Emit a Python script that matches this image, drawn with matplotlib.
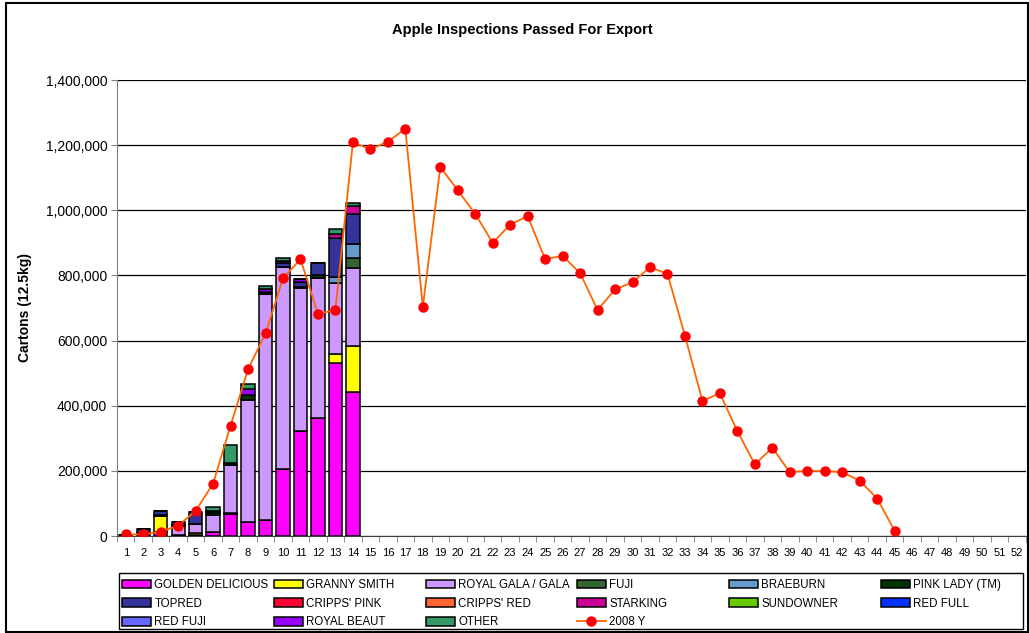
import numpy as np
import matplotlib
matplotlib.use("Agg")
import matplotlib.pyplot as plt
from matplotlib.patches import Rectangle
from matplotlib.ticker import FuncFormatter, MultipleLocator

plt.rcParams['font.family'] = ['Liberation Sans', 'DejaVu Sans']

weeks = list(range(1, 53))

# cartons per week, weeks 1-14 (bars stop after week 14)
golden_delicious = [0, 0, 12000, 3000, 3000, 13000, 67000, 44000, 49000, 205000, 323000, 361000, 530000, 443000]
granny_smith = [0, 0, 48000, 0, 5000, 0, 4000, 0, 0, 0, 0, 0, 28000, 141000]
royal_gala = [0, 0, 0, 27000, 30000, 52000, 147000, 375000, 694000, 620000, 437000, 432000, 218000, 240000]
fuji = [0, 0, 0, 3000, 0, 5000, 0, 0, 0, 0, 0, 0, 0, 31000]
braeburn = [0, 0, 0, 0, 0, 0, 0, 0, 0, 0, 0, 0, 18000, 43000]
pink_lady = [0, 8000, 4000, 0, 0, 6000, 5000, 13000, 7000, 0, 4000, 8000, 0, 0]
topred = [3000, 12000, 14000, 9000, 35000, 0, 0, 0, 0, 12000, 15000, 38000, 120000, 92000]
cripps_pink = [0] * 14
cripps_red = [0] * 14
starking = [0, 0, 0, 0, 0, 0, 0, 0, 0, 0, 0, 0, 13000, 22000]
sundowner = [0] * 14
red_full = [0] * 14
red_fuji = [0] * 14
royal_beaut = [0, 0, 0, 0, 0, 0, 0, 18000, 8000, 8000, 9000, 0, 0, 0]
other = [0, 0, 0, 0, 0, 12000, 57000, 18000, 10000, 10000, 0, 0, 15000, 11000]

# 2008 weekly total, weeks 1-45
y2008 = [5000, 5000, 13000, 32000, 77000, 161000, 339000, 512000, 622000, 791000,
         850000, 682000, 694000, 1209000, 1187000, 1211000, 1250000, 703000, 1133000, 1061000,
         989000, 900000, 956000, 982000, 850000, 860000, 807000, 694000, 757000, 779000,
         825000, 805000, 615000, 415000, 438000, 322000, 220000, 271000, 196000, 200000,
         199000, 196000, 170000, 115000, 16000]

series = [
    ("GOLDEN DELICIOUS", golden_delicious, "#FF00FF"),
    ("GRANNY SMITH", granny_smith, "#FFFF00"),
    ("ROYAL GALA / GALA", royal_gala, "#CC99FF"),
    ("FUJI", fuji, "#336633"),
    ("BRAEBURN", braeburn, "#6699CC"),
    ("PINK LADY (TM)", pink_lady, "#003300"),
    ("TOPRED", topred, "#333399"),
    ("CRIPPS' PINK", cripps_pink, "#FF0033"),
    ("CRIPPS' RED", cripps_red, "#FF6633"),
    ("STARKING", starking, "#CC0099"),
    ("SUNDOWNER", sundowner, "#66CC00"),
    ("RED FULL", red_full, "#0033FF"),
    ("RED FUJI", red_fuji, "#6666FF"),
    ("ROYAL BEAUT", royal_beaut, "#9900FF"),
    ("OTHER", other, "#339966"),
]

fig = plt.figure(figsize=(10.29, 6.33), dpi=100)
ax = fig.add_axes([117 / 1029, 97 / 633, 908.7 / 1029, 456 / 633])

handles = []
bottom = np.zeros(14)
x_bars = weeks[:14]
for name, vals, col in series:
    b = ax.bar(x_bars, vals, width=0.76, bottom=bottom, color=col,
               edgecolor="black", linewidth=1.1, label=name, zorder=3)
    bottom += np.array(vals)
    handles.append(b)

ln, = ax.plot(weeks[:len(y2008)], y2008, color="#FF6600", lw=1.3, marker="o",
              markersize=6.5, markerfacecolor="#FF0000", markeredgecolor="#FF0000",
              label="2008 Y", zorder=4)
handles.append(ln)

ax.set_xlim(0.5, 52.5)
ax.set_ylim(0, 1400000)
ax.yaxis.set_major_locator(MultipleLocator(200000))
ax.yaxis.set_major_formatter(FuncFormatter(lambda v, p: f"{int(v):,}"))
ax.grid(axis="y", color="black", lw=0.9, zorder=0)
ax.set_axisbelow(True)

ax.set_xticks(weeks)
ax.set_xticklabels([str(w) for w in weeks], fontsize=8)
ax.set_xticks(np.arange(0.5, 53, 1), minor=True)
ax.tick_params(axis="x", which="major", length=0, pad=9)
ax.tick_params(axis="x", which="minor", length=4, color="#808080")
ax.tick_params(axis="y", length=4, color="#808080", labelsize=10, pad=3)

for s in ["top", "right"]:
    ax.spines[s].set_visible(False)
ax.spines["left"].set_color("#808080")
ax.spines["bottom"].set_color("#404040")

ax.set_ylabel("Cartons (12.5kg)", fontsize=10, fontweight="bold")
ax.yaxis.set_label_coords(-(117 - 32) / 908.7, 0.5)
fig.text(522 / 1029, 1 - 30 / 633, "Apple Inspections Passed For Export",
         ha="center", va="center", fontsize=10.5, fontweight="bold")

# legend: 6 equally spaced columns, row-major like the original
col_x = [122, 274, 426, 577, 729, 881]
labels = [h.get_label() for h in handles]
for c in range(6):
    idx = [i for i in range(c, len(handles), 6)]
    fig.legend([handles[i] for i in idx], [labels[i] for i in idx],
               loc="upper left", bbox_to_anchor=(col_x[c] / 1029, 1 - 579 / 633),
               frameon=False, fontsize=8.3, handlelength=2.5, handleheight=0.75,
               handletextpad=0.3, labelspacing=0.58, borderpad=0, borderaxespad=0)

fig.patches.append(Rectangle((119 / 1029, 1 - 629 / 633), (1023 - 119) / 1029, 56 / 633,
                             transform=fig.transFigure, fill=False, edgecolor="black", lw=1))
fig.patches.append(Rectangle((6 / 1029, 1 / 633), 1022 / 1029, 629 / 633,
                             transform=fig.transFigure, fill=False, edgecolor="black", lw=1.5))

fig.savefig("out.png", dpi=100)
